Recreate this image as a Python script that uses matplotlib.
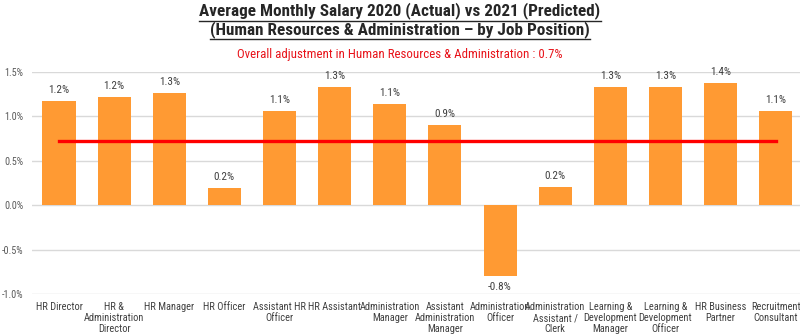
import matplotlib
matplotlib.use("Agg")
from matplotlib import pyplot as plt
from matplotlib.lines import Line2D
from matplotlib import font_manager

installed = set(f.name for f in font_manager.fontManager.ttflist)
cands = ["Roboto Condensed", "Liberation Sans Narrow", "Open Sans Condensed", "DejaVu Sans Condensed"]
condensed = [c for c in cands if c in installed]
plt.rcParams["font.family"] = condensed[:1] + ["Roboto", "DejaVu Sans"]
small = 7.5 if condensed else 6.6

positions = ["HR Director", "HR &\nAdministration\nDirector", "HR Manager", "HR Officer",
             "Assistant HR\nOfficer", "HR Assistant", "Administration\nManager",
             "Assistant\nAdministration\nManager", "Administration\nOfficer",
             "Administration\nAssistant /\nClerk", "Learning &\nDevelopment\nManager",
             "Learning &\nDevelopment\nOfficer", "HR Business\nPartner", "Recruitment\nConsultant"]
adjust = [1.17, 1.22, 1.26, 0.19, 1.06, 1.33, 1.14, 0.90, -0.80, 0.20, 1.33, 1.33, 1.37, 1.06]
labels = ["1.2%", "1.2%", "1.3%", "0.2%", "1.1%", "1.3%", "1.1%", "0.9%", "-0.8%", "0.2%",
          "1.3%", "1.3%", "1.4%", "1.1%"]
overall = 0.72

fig = plt.figure(figsize=(8, 3.36), dpi=100)
ax = fig.add_axes([0.04, 0.125, 0.96, 0.661])
xs = range(len(positions))
ax.bar(xs, adjust, width=0.6, color="#FF9A33", zorder=2)
ax.plot([0, len(positions) - 1], [overall, overall], color="#FF0000", lw=2.4, zorder=3)

for x, v, t in zip(xs, adjust, labels):
    if v >= 0:
        ax.text(x, v + 0.07, t, ha="center", va="bottom", fontsize=8, color="#404040")
    else:
        ax.text(x, v - 0.07, t, ha="center", va="top", fontsize=8, color="#404040")

ax.set_xlim(-0.49, 13.44)
ax.set_ylim(-1.0, 1.5)
ax.set_yticks([-1.0, -0.5, 0.0, 0.5, 1.0, 1.5])
ax.set_yticklabels(["-1.0%", "-0.5%", "0.0%", "0.5%", "1.0%", "1.5%"], fontsize=7.3, color="#595959")
ax.set_xticks(list(xs))
ax.set_xticklabels(positions, fontsize=small, color="#404040", linespacing=1.1, va="top")
ax.tick_params(axis="x", length=0, pad=6)
ax.tick_params(axis="y", length=0, pad=6)
ax.grid(axis="y", color="#D9D9D9", lw=1, zorder=0)
for s in ax.spines.values():
    s.set_visible(False)

t1 = fig.text(0.5, 0.993, "Average Monthly Salary 2020 (Actual) vs 2021 (Predicted)",
              ha="center", va="top", fontsize=12.3, fontweight="bold", color="#262626")
t2 = fig.text(0.5, 0.938, "(Human Resources & Administration \u2013 by Job Position)",
              ha="center", va="top", fontsize=12.3, fontweight="bold", color="#262626")
fig.text(0.5, 0.857, "Overall adjustment in Human Resources & Administration : 0.7%",
         ha="center", va="top", fontsize=9.3, color="#E8141B")

# underline the title lines
fig.canvas.draw()
r = fig.canvas.get_renderer()
for t in (t1, t2):
    bb = t.get_window_extent(r).transformed(fig.transFigure.inverted())
    y = bb.y0 - 0.004
    fig.add_artist(Line2D([bb.x0, bb.x1], [y, y], color="#262626", lw=1, transform=fig.transFigure))

fig.savefig("out.png", dpi=100)
